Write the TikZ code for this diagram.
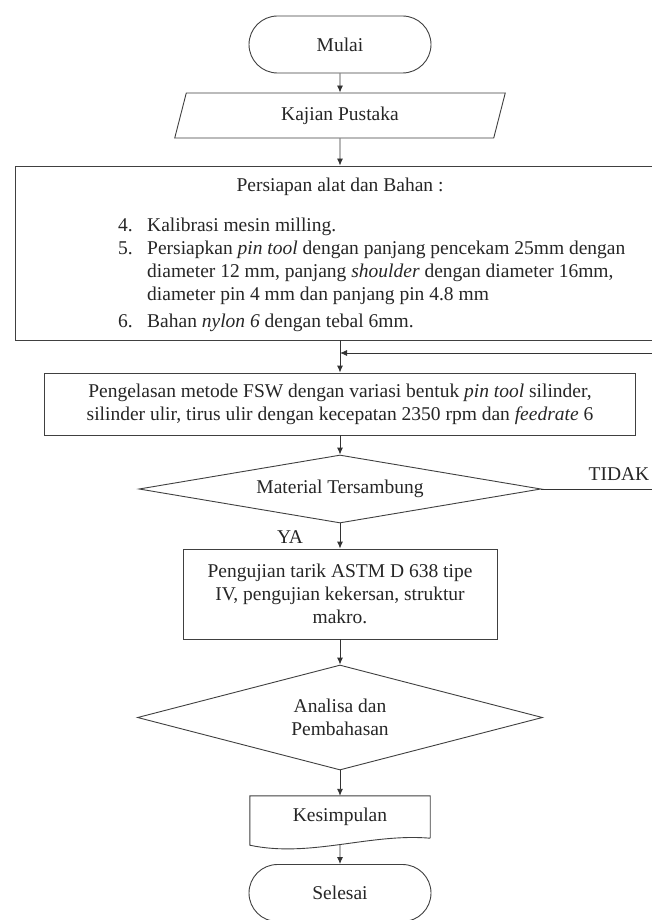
\documentclass[tikz,border=0pt]{standalone}
\usepackage{fontspec}
\setmainfont{Liberation Serif}
\usepackage{tikz}
\usetikzlibrary{shapes.geometric,shapes.misc,arrows.meta}

\tikzset{
  garis/.style={draw=black!75, line width=0.9pt},
  terminal/.style={garis, rounded rectangle, minimum width=182pt, minimum height=57pt, inner sep=0pt},
  masukan/.style={garis, trapezium, trapezium left angle=76, trapezium right angle=104,
    trapezium stretches=true, minimum width=331pt, minimum height=45pt, inner sep=0pt},
  proses/.style={garis, rectangle, align=center, inner sep=0pt},
  keputusan/.style={garis, diamond, aspect=6, align=center, inner sep=0pt},
  panah/.style={draw=black!80, line width=0.9pt, -{Latex[length=7pt,width=6pt]}}
}

\begin{document}
\begin{tikzpicture}[x=1pt, y=-1pt, every node/.append style={font=\fontsize{19.5}{23}\selectfont, text=black!85}]
    % page frame
    \fill[white] (0,0) rectangle (652,920);
    \useasboundingbox (0,0) rectangle (652,920);
    \clip (0,0) rectangle (652,920);

    % draw nodes
    \node[terminal] (mulai) at (340,44.5) {Mulai};
    \node[masukan] (kajian) at (340,115.5) {Kajian Pustaka};
    \node[proses, minimum width=650pt, minimum height=174pt] (persiapan) at (340,253) {};
    \node[anchor=base] (judul) at (340,192) {Persiapan alat dan Bahan :};
    \node[anchor=base west, inner sep=0pt] (daftar) at (118,231.5) {%
      \begin{tabular}[t]{@{}p{29pt}@{}l@{}}
        4. & Kalibrasi mesin milling.\\
        5. & Persiapkan \textit{pin tool} dengan panjang pencekam 25mm dengan\\
           & diameter 12 mm, panjang \textit{shoulder} dengan diameter 16mm,\\
           & diameter pin 4 mm dan panjang pin 4.8 mm\\[4pt]
        6. & Bahan \textit{nylon 6} dengan tebal 6mm.
      \end{tabular}};
    \node[proses, minimum width=591pt, minimum height=62pt] (pengelasan) at (340,404)
      {Pengelasan metode FSW dengan variasi bentuk \textit{pin tool} silinder,\\
       silinder ulir, tirus ulir dengan kecepatan 2350 rpm dan \textit{feedrate} 6};
    \node[keputusan, minimum width=402pt, minimum height=68pt] (material) at (340,489) {Material Tersambung};
    \node[proses, minimum width=314pt, minimum height=90pt] (pengujian) at (340,594)
      {Pengujian tarik ASTM D 638 tipe\\ IV, pengujian kekersan, struktur\\ makro.};
    \node[keputusan, minimum width=405pt, minimum height=105pt] (analisa) at (340,717.5) {Analisa dan\\ Pembahasan};
    \node[inner sep=0pt, minimum width=180pt, minimum height=42pt] (kesimpulan) at (340,817) {Kesimpulan};
    \draw[garis] (kesimpulan.south east) -- (kesimpulan.north east) -- (kesimpulan.north west)
      -- ([yshift=-7pt]kesimpulan.south west) .. controls (310,858) and (370,833) .. (kesimpulan.south east)
      coordinate[pos=0.5] (gelombang);
    \node[terminal] (selesai) at (340,893) {Selesai};

    % draw labels
    \node (tidak) at (619,474) {TIDAK};
    \node (ya) at (290,537) {YA};

    % draw arrows
    \draw[panah] (mulai.south) -- (kajian.north);
    \draw[panah] (kajian.south) -- (persiapan.north);
    \draw[panah] (persiapan.south) -- (pengelasan.north);
    \draw[panah] (pengelasan.south) -- (material.north);
    \draw[panah] (material.south) -- (pengujian.north);
    \draw[panah] (pengujian.south) -- (analisa.north);
    \draw[panah] (analisa.south) -- (kesimpulan.north);
    \draw[panah] (gelombang) -- (selesai.north);

    % loop back
    \coordinate (gabung) at (340,353);
    \draw[panah] (material.east) -- ++(160,0) |- (gabung);
\end{tikzpicture}
\end{document}
